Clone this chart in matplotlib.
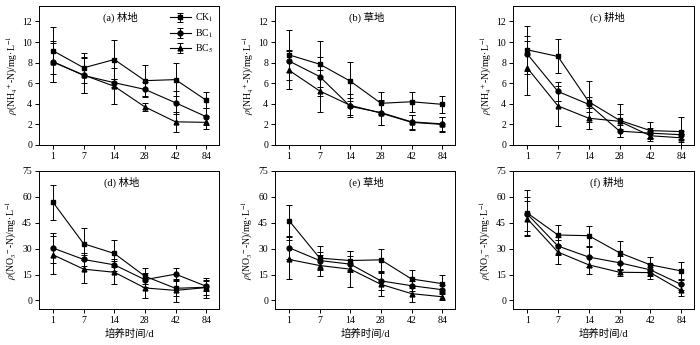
import numpy as np
import matplotlib
matplotlib.use("Agg")
import matplotlib.pyplot as plt

plt.rcParams['font.family'] = ['Liberation Serif', 'Noto Sans CJK SC']
plt.rcParams['mathtext.fontset'] = 'stix'
plt.rcParams['font.size'] = 7

days = ['1', '7', '14', '28', '42', '84']
series = ['CK$_1$', 'BC$_1$', 'BC$_5$']
markers = ['s', 'o', '^']
panel_titles = ['(a) 林地', '(b) 草地', '(c) 耕地', '(d) 林地', '(e) 草地', '(f) 耕地']

# NH4+-N, mean values (CK1, BC1, BC5)
nh4_forest = [[9.15, 7.5, 8.3, 6.25, 6.35, 4.35],
              [8.1, 6.75, 6.05, 5.4, 4.1, 2.75],
              [8.05, 6.8, 5.7, 3.7, 2.25, 2.2]]
nh4_forest_err = [[2.3, 1.45, 1.9, 1.5, 1.6, 0.75],
                  [2.0, 1.7, 0.4, 0.7, 1.1, 0.85],
                  [1.9, 1.75, 1.75, 0.35, 0.95, 0.65]]
nh4_grass = [[8.75, 7.85, 6.2, 4.05, 4.2, 3.95],
             [8.15, 6.65, 3.75, 3.15, 2.25, 2.05],
             [7.25, 5.25, 3.85, 3.1, 2.2, 2.0]]
nh4_grass_err = [[2.45, 2.25, 1.9, 1.05, 0.95, 0.85],
                 [1.1, 1.9, 0.8, 1.2, 0.7, 0.7],
                 [1.85, 2.05, 1.1, 1.2, 0.7, 0.7]]
nh4_crop = [[9.25, 8.6, 4.2, 2.4, 1.4, 1.3],
            [8.85, 5.2, 3.95, 1.35, 1.15, 1.0],
            [7.5, 3.8, 2.6, 2.3, 0.9, 0.7]]
nh4_crop_err = [[2.35, 1.65, 2.0, 1.6, 0.85, 1.45],
                [1.7, 0.95, 0.7, 0.55, 0.5, 0.4],
                [2.6, 1.95, 1.0, 0.7, 0.5, 0.4]]

# NO3--N, mean values (CK1, BC1, BC5)
no3_forest = [[56.8, 32.8, 27.2, 14.0, 7.0, 7.6],
              [30.3, 23.7, 20.6, 12.0, 15.2, 8.2],
              [26.4, 18.1, 16.3, 7.2, 5.8, 7.4]]
no3_forest_err = [[10.0, 9.2, 7.6, 4.7, 4.5, 4.3],
                  [8.6, 4.0, 3.5, 4.0, 3.5, 3.0],
                  [11.0, 8.2, 6.6, 6.0, 6.6, 5.8]]
no3_grass = [[46.2, 24.5, 23.1, 23.5, 12.4, 9.7],
             [30.5, 23.1, 21.0, 11.3, 8.5, 6.2],
             [23.7, 20.2, 18.1, 9.3, 3.9, 2.1]]
no3_grass_err = [[9.0, 6.8, 5.4, 6.4, 5.3, 5.1],
                 [6.5, 5.0, 4.5, 5.0, 3.0, 2.5],
                 [11.5, 6.0, 10.5, 6.6, 4.7, 2.0]]
no3_crop = [[50.7, 37.9, 37.5, 27.6, 20.6, 17.1],
            [50.1, 31.5, 25.1, 21.8, 17.7, 9.3],
            [47.4, 28.0, 20.6, 16.3, 16.1, 5.8]]
no3_crop_err = [[13.0, 6.0, 5.8, 6.6, 4.5, 5.4],
                [10.0, 5.0, 6.0, 4.0, 3.5, 3.0],
                [10.0, 7.0, 5.4, 2.0, 3.5, 3.5]]

panels = [(nh4_forest, nh4_forest_err), (nh4_grass, nh4_grass_err), (nh4_crop, nh4_crop_err),
          (no3_forest, no3_forest_err), (no3_grass, no3_grass_err), (no3_crop, no3_crop_err)]

nh4_label = r'$\rho$(NH$_4$$^{+}$-N)/mg·L$^{-1}$'
no3_label = r'$\rho$(NO$_3$$^{-}$-N)/mg·L$^{-1}$'

W, H = 700, 345
fig = plt.figure(figsize=(7, 3.45), dpi=100)

col_px = [(39, 219), (275, 455), (513, 694)]
row_px = [(6, 145), (171, 309)]
title_x = [0.45, 0.51, 0.52, 0.46, 0.51, 0.52]

x = np.arange(len(days))
for i, (vals, errs) in enumerate(panels):
    r, c = divmod(i, 3)
    l, rr = col_px[c]
    t, b = row_px[r]
    ax = fig.add_axes([l / W, (H - b) / H, (rr - l) / W, (b - t) / H])
    for k in range(3):
        ax.errorbar(x, vals[k], yerr=errs[k], color='black', marker=markers[k],
                    markersize=3.5, linewidth=0.8, elinewidth=0.7, capsize=2.2,
                    capthick=0.7, label=series[k])
    ax.set_xlim(-0.46, 5.42)
    ax.set_xticks(x)
    ax.set_xticklabels(days)
    if r == 0:
        ax.set_ylim(0, 13.5)
        ax.set_yticks(np.arange(0, 13, 2))
        ax.set_ylabel(nh4_label, fontsize=7, labelpad=2)
    else:
        ax.set_ylim(-5, 75)
        ax.set_yticks(np.arange(0, 76, 15))
        ax.set_ylabel(no3_label, fontsize=7, labelpad=2)
        ax.set_xlabel('培养时间/d', fontsize=7.5, labelpad=3)
    ax.tick_params(direction='out', length=3, width=0.7, labelsize=7, pad=2)
    for s in ax.spines.values():
        s.set_linewidth(0.7)
    ax.text(title_x[i], 0.92, panel_titles[i], transform=ax.transAxes,
            ha='center', va='center', fontsize=7.5)
    if i == 0:
        ax.legend(loc='upper right', frameon=False, fontsize=7, handlelength=2.2,
                  borderaxespad=0.2, labelspacing=0.3, handletextpad=0.4)

plt.savefig('out.png', dpi=100)
plt.close()
